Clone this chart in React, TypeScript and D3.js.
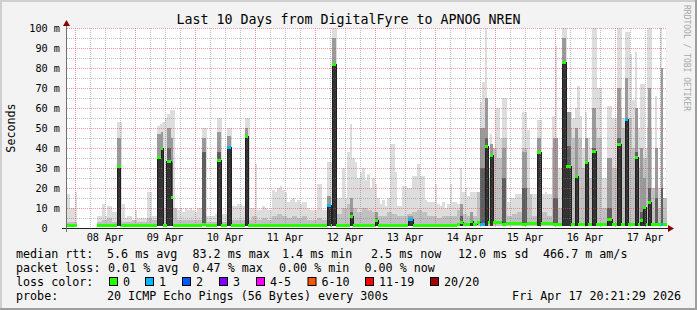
import React from 'react';
import * as d3 from 'd3';

// ---- time range ----
const START = new Date(2026, 3, 7, 20, 21, 29);
const END = new Date(2026, 3, 17, 20, 21, 29);

// ---- axis ticks ----
const Y_MAJOR = [10, 20, 30, 40, 50, 60, 70, 80, 90, 100];
const Y_MINOR = [5, 15, 25, 35, 45, 55, 65, 75, 85, 95];
const Y_LABELS = ['0  ', '10 m', '20 m', '30 m', '40 m', '50 m', '60 m', '70 m', '80 m', '90 m', '100 m'];
const Y_LABEL_VALUES = [0, 10, 20, 30, 40, 50, 60, 70, 80, 90, 100];

// ---- smoke: top of lightest band per hour (ms), 240 hours ----
const LIGHT_TOP: (number | null)[] = [
  17, 10, 10, 18, null, null, null, null, null, null, null, null, 6, 6, 12, 6, 11, 11, 8, 8,
  53, 53, 12, 5, 6, 6, 4, 9, 5, 5, 5, 5, 18, 18, 6, 6, 51, 52, 53, 55,
  57, 59, 59, 10, 9, 10, 8, 10, 9, 10, 9, 8, 10, 10, 50, 50, 6, 6, 6, 7,
  55, 55, 7, 7, 50, 50, 11, 11, 12, 12, 11, 55, 55, 10, 10, 32, 9, 9, 11, 10,
  9, 9, 19, 18, 20, 21, 19, 18, 13, 14, 15, 13, 14, 12, 13, 13, 10, 9, 9, 9,
  22, 22, 9, 9, 33, 33, 100, 100, 15, 15, 30, 15, 38, 52, 35, 33, 25, 28, 30, 24,
  27, 20, 25, 22, 15, 12, 14, 11, 15, 42, 42, 28, 11, 11, 21, 21, 20, 20, 26, 26,
  32, 26, 26, 14, 13, 13, 13, 22, 12, 11, 13, 10, 12, 22, 13, 13, 12, 30, 18, 20,
  16, 18, 18, 18, 18, 63, 73, 100, 30, 47, 40, 60, 60, 45, 65, 65, 13, 15, 15, 17,
  17, 17, 58, 58, 49, 17, 17, 17, 54, 54, 17, 18, 17, 17, 56, 91, 30, 30, 100, 100,
  58, 58, 55, 60, 71, 56, 40, 58, 45, 40, 100, 100, 70, 70, 25, 25, 61, 61, 55, 55,
  100, 100, 55, 98, 98, 87, 64, 88, 50, 72, 72, 40, 100, 100, 20, 66, 20, 100, 15, 15,
];

// ---- smoke: top of the medium band per 2 hours (ms), 120 bins ----
const MID_TOP: (number | null)[] = [
  3, 3, null, null, null, null, 3, 4, 5, 3, 4, 3, 3, 4, 3, 3, 5, 4, 8, 10,
  10, 10, 4, 4, 4, 4, 4, 6, 3, 3, 4, 3, 3, 4, 4, 4, 4, 6, 4, 5,
  4, 6, 7, 6, 5, 6, 5, 6, 4, 4, 5, 4, 5, 6, 7, 10, 12, 10, 8, 10,
  9, 8, 6, 6, 8, 7, 6, 6, 7, 8, 9, 8, 6, 6, 5, 6, 6, 6, 9, 7,
  6, 6, 35, 50, 25, 40, 35, 45, 6, 7, 8, 40, 20, 6, 20, 8, 6, 40, 10, 60,
  50, 45, 45, 30, 25, 50, 45, 10, 35, 30, 60, 50, 55, 40, 30, 35, 50, 25, 10, 45,
];

// ---- median rtt baseline per 2 hours (ms), 120 bins ----
const MED_BASE: (number | null)[] = [
  1.5, 1.5, null, null, null, null, 1.5, 1.5, 1.5, 1.5, 1.5, 1.5, 1.5, 1.5, 1.5, 1.5, 1.5, 1.2, 1.3, 1.5,
  1.1, 1.5, 1.5, 1.5, 1.5, 1.5, 1.5, 1.5, 1.5, 1.5, 1.5, 1.5, 1.5, 1.5, 1.5, 1.5, 1.5, 1.5, 1.5, 1.5,
  1.5, 1.5, 1.5, 1.5, 1.5, 1.5, 1.5, 1.5, 1.5, 1.5, 1.5, 1.5, 1.5, 1.5, 1.5, 1.5, 1.5, 1.5, 1.5, 1.5,
  1.5, 1.5, 1.5, 1.5, 1.5, 1.5, 1.5, 1.5, 1.5, 1.5, 1.5, 1.5, 1.5, 1.5, 1.5, 1.5, 1.5, 1.5, 1.8, 1.8,
  1.8, 2.0, 2.7, 2.7, 3.0, 3.0, 2.8, 2.5, 2.2, 2.1, 2.1, 2.1, 2.1, 2.1, 2.2, 2.1, 2.1, 2.1, 2.0, 2.0,
  1.8, 1.8, 1.8, 1.8, 1.8, 1.8, 1.8, 1.8, 1.8, 1.8, 1.8, 1.8, 1.8, 1.8, 1.8, 1.8, 1.8, 1.8, 1.8, 1.8,
];

// ---- median excursions: [startHour, hours, median ms, dark smoke top, mid smoke top, loss class] ----
const SPIKES: [number, number, number, number, number, number][] = [
  [20.1, 1.4, 31, 31, 45, 0],
  [36.0, 1.6, 35.5, 36, 47, 0],
  [37.6, 0.8, 40, 40, 48, 0],
  [39.9, 1.7, 33.5, 40, 50, 0],
  [41.6, 0.7, 15.5, 33, 45, 0],
  [54.0, 1.6, 2, 38, 45, 0],
  [60.0, 1.6, 34, 38, 48, 0],
  [64.0, 1.6, 40.5, 41, 46, 1],
  [71.2, 1.2, 46, 46, 50, 0],
  [104.0, 1.6, 11.5, 12, 16, 1],
  [106.0, 1.6, 82, 82, 95, 0],
  [113.2, 1.2, 6, 8, 15, 0],
  [123.2, 1.2, 4, 5, 8, 0],
  [136.4, 2.0, 4.5, 5, 6, 1],
  [157.2, 1.2, 3, 6, 12, 0],
  [161.2, 1.2, 3.5, 4, 8, 0],
  [165.2, 2.0, 2, 30, 50, 1],
  [167.2, 1.2, 41, 45, 65, 0],
  [169.2, 1.2, 36.5, 37, 42, 0],
  [174.0, 1.6, 2, 25, 40, 0],
  [182.0, 2.0, 2, 20, 38, 0],
  [188.0, 1.6, 38, 38, 45, 0],
  [194.4, 2.0, 2, 15, 45, 0],
  [198.0, 1.6, 83, 83, 95, 0],
  [199.6, 2.0, 31, 41, 58, 0],
  [203.2, 1.2, 26, 26, 50, 0],
  [207.2, 1.2, 33, 33, 45, 0],
  [210.0, 1.6, 38.5, 40, 60, 0],
  [216.0, 2.0, 4.5, 10, 35, 0],
  [220.0, 1.6, 42, 45, 70, 0],
  [223.2, 1.2, 54.5, 55, 75, 1],
  [227.2, 1.2, 35.5, 38, 60, 0],
  [229.2, 1.2, 4, 8, 40, 0],
  [230.4, 1.2, 10.5, 11, 25, 0],
  [232.4, 1.2, 13, 20, 70, 0],
  [235.2, 1.2, 2, 15, 40, 0],
  [237.6, 0.8, 2, 20, 80, 1],
];

// ---- legend ----
const TITLE = 'Last 10 Days from DigitalFyre to APNOG NREN';
const RTT_STATS = ['5.6 ms avg', '83.2 ms max', '1.4 ms min', '2.5 ms now', '12.0 ms sd', '466.7 m am/s'];
const LOSS_STATS = ['0.01 % avg', '0.47 % max', '0.00 % min', '0.00 % now'];
const LOSS_LABELS = ['0', '1', '2', '3', '4-5', '6-10', '11-19', '20/20'];
const LOSS_COLORS = ['#26ff00', '#00b8ff', '#0059ff', '#7e00ff', '#ff00ff', '#ff5500', '#ff0000', '#a00000'];
const PROBE = '20 ICMP Echo Pings (56 Bytes) every 300s';
const STAMP = 'Fri Apr 17 20:21:29 2026';

const FONT = "'DejaVu Sans Mono', monospace";

type Seg = { h0: number; h1: number; v: number | null; loss: number };

function buildMedian(): Seg[] {
  const pts = new Set<number>();
  for (let b = 0; b <= MED_BASE.length; b++) pts.add(b * 2);
  SPIKES.forEach(s => { pts.add(s[0]); pts.add(s[0] + s[1]); });
  const arr = Array.from(pts).sort((a, b) => a - b);
  const segs: Seg[] = [];
  for (let i = 0; i < arr.length - 1; i++) {
    const h0 = arr[i], h1 = arr[i + 1], m = (h0 + h1) / 2;
    const sp = SPIKES.find(s => m >= s[0] && m < s[0] + s[1]);
    const base = MED_BASE[Math.floor(m / 2)];
    if (sp) segs.push({ h0, h1, v: sp[2], loss: sp[5] });
    else segs.push({ h0, h1, v: base ?? null, loss: 0 });
  }
  return segs;
}

export default function App() {
  const W = 697, H = 310;
  const xt = d3.scaleTime().domain([START, END]).range([66, 666]);
  const xh = d3.scaleLinear().domain([0, 240]).range([67, 667]);
  const y = d3.scaleLinear().domain([0, 100]).range([228, 28]);

  const days = d3.timeDay.range(d3.timeDay.ceil(START), END);
  const sixH = d3.timeHour.every(6)!.range(START, END).filter(d => d.getHours() !== 0);
  const fmt = d3.timeFormat('%d %b');

  const segs = buildMedian();
  const pts: { h: number; v: number | null }[] = [];
  segs.forEach((s, i) => {
    pts.push({ h: s.h0, v: s.v });
    const next = segs[i + 1];
    if (s.v != null && (!next || next.v == null)) pts.push({ h: s.h1, v: s.v });
  });
  const medLine = d3.line<{ h: number; v: number | null }>()
    .defined(p => p.v != null)
    .x(p => xh(p.h))
    .y(p => y(p.v as number))
    .curve(d3.curveStepAfter);

  const majorGrid = 'rgba(225,70,70,0.55)';
  const minorGrid = 'rgba(130,130,130,0.5)';

  return (
    <svg width={W} height={H} style={{ position: 'absolute', left: 0, top: 0 }} fontFamily={FONT}>
      <rect x={0} y={0} width={W} height={H} fill="#f3f3f3" />
      <rect x={0} y={0} width={W} height={2} fill="#cfcfcf" />
      <rect x={0} y={0} width={2} height={H} fill="#cfcfcf" />
      <rect x={0} y={H - 2} width={W} height={2} fill="#9e9e9e" />
      <rect x={W - 2} y={0} width={2} height={H} fill="#9e9e9e" />

      <rect x={66} y={28} width={600} height={200} fill="#ffffff" />

      {/* smoke */}
      <g shapeRendering="crispEdges">
        {LIGHT_TOP.map((v, h) => v == null ? null : (
          <rect key={'l' + h} x={xh(h)} y={y(v)} width={xh(h + 1) - xh(h)} height={y(1) - y(v)} fill="#dddddd" />
        ))}
        {LIGHT_TOP.map((l, h) => {
          const m = MID_TOP[Math.floor(h / 2)];
          if (l == null || m == null) return null;
          const v = Math.min(l, m);
          return <rect key={'m' + h} x={xh(h)} y={y(v)} width={xh(h + 1) - xh(h)} height={y(1) - y(v)} fill="#c0c0c0" />;
        })}
        {SPIKES.map((s, i) => (
          <g key={'s' + i}>
            <rect x={xh(s[0])} y={y(s[4])} width={xh(s[0] + s[1]) - xh(s[0])} height={y(1) - y(s[4])} fill="#9a9a9a" />
            <rect x={xh(s[0])} y={y(s[3])} width={xh(s[0] + s[1]) - xh(s[0])} height={y(1) - y(s[3])} fill="#5e5e5e" />
            <rect x={xh(s[0])} y={y(s[2])} width={xh(s[0] + s[1]) - xh(s[0])} height={y(1) - y(s[2])} fill="#333333" />
          </g>
        ))}
      </g>

      {/* grid */}
      <g shapeRendering="crispEdges" strokeWidth={1} strokeDasharray="1,1">
        {Y_MINOR.map(v => <line key={'ym' + v} x1={67} x2={666} y1={y(v) + 0.5} y2={y(v) + 0.5} stroke={minorGrid} />)}
        {sixH.map((d, i) => <line key={'xm' + i} x1={Math.round(xt(d)) + 0.5} x2={Math.round(xt(d)) + 0.5} y1={28} y2={228} stroke={minorGrid} />)}
        {Y_MAJOR.map(v => <line key={'yM' + v} x1={67} x2={666} y1={y(v) + 0.5} y2={y(v) + 0.5} stroke={majorGrid} />)}
        {days.map((d, i) => <line key={'xM' + i} x1={Math.round(xt(d)) + 0.5} x2={Math.round(xt(d)) + 0.5} y1={28} y2={228} stroke={majorGrid} />)}
      </g>

      {/* median */}
      <path d={medLine(pts) || ''} fill="none" stroke="#202020" strokeWidth={1} shapeRendering="crispEdges" />
      <g shapeRendering="crispEdges">
        {segs.map((s, i) => s.v == null ? null : (
          <rect key={'g' + i} x={xh(s.h0)} y={y(s.v) - 1.5} width={xh(s.h1) - xh(s.h0)} height={3} fill={LOSS_COLORS[s.loss]} />
        ))}
      </g>

      {/* axes */}
      <line x1={62} x2={670} y1={228.5} y2={228.5} stroke="#202020" shapeRendering="crispEdges" />
      <line x1={66.5} x2={66.5} y1={232} y2={25} stroke="#707070" shapeRendering="crispEdges" />
      <path d="M668,225 L674,228.5 L668,232 Z" fill="#8b0000" />
      <path d="M63,26 L66.5,20 L70,26 Z" fill="#8b0000" />

      {/* y labels */}
      {Y_LABEL_VALUES.map((v, i) => (
        <text key={'yl' + v} x={60} y={y(v)} dy="0.36em" textAnchor="end" fontSize={10.2} fill="#000" style={{ whiteSpace: 'pre' }}>{Y_LABELS[i]}</text>
      ))}
      {/* x labels */}
      {days.map((d, i) => (
        <text key={'xl' + i} x={xt(d3.timeHour.offset(d, 12))} y={240.5} textAnchor="middle" fontSize={10.2} fill="#000">{fmt(d)}</text>
      ))}

      <text x={15} y={128} transform="rotate(-90 15 128)" textAnchor="middle" fontSize={11.7} fill="#000">Seconds</text>
      <text x={348.5} y={24} textAnchor="middle" fontSize={13.3} fill="#000">{TITLE}</text>
      <text x={684} y={5} transform="rotate(90 684 5)" fontSize={8} fill="#a8a8a8">RRDTOOL / TOBI OETIKER</text>

      {/* legend */}
      <g fontSize={11.7} fill="#000" style={{ whiteSpace: 'pre' }}>
        <text x={16} y={258}>median rtt:</text>
        {RTT_STATS.map((t, i) => <text key={'r' + i} x={[107, 192.5, 282, 371, 458, 543][i]} y={258}>{t}</text>)}
        <text x={16} y={272}>packet loss:</text>
        {LOSS_STATS.map((t, i) => <text key={'p' + i} x={[108, 192.5, 279, 364.5][i]} y={272}>{t}</text>)}
        <text x={16} y={286}>loss color:</text>
        {LOSS_LABELS.map((t, i) => {
          const bx = [109, 145, 182, 219, 256, 307.5, 365, 430][i];
          return (
            <g key={'lc' + i}>
              <rect x={bx + 0.5} y={277.5} width={8} height={8} fill={LOSS_COLORS[i]} stroke="#000" strokeWidth={1} />
              <text x={bx + 14} y={286}>{t}</text>
            </g>
          );
        })}
        <text x={16} y={300}>probe:</text>
        <text x={107} y={300}>{PROBE}</text>
        <text x={681} y={300} textAnchor="end">{STAMP}</text>
      </g>
    </svg>
  );
}
